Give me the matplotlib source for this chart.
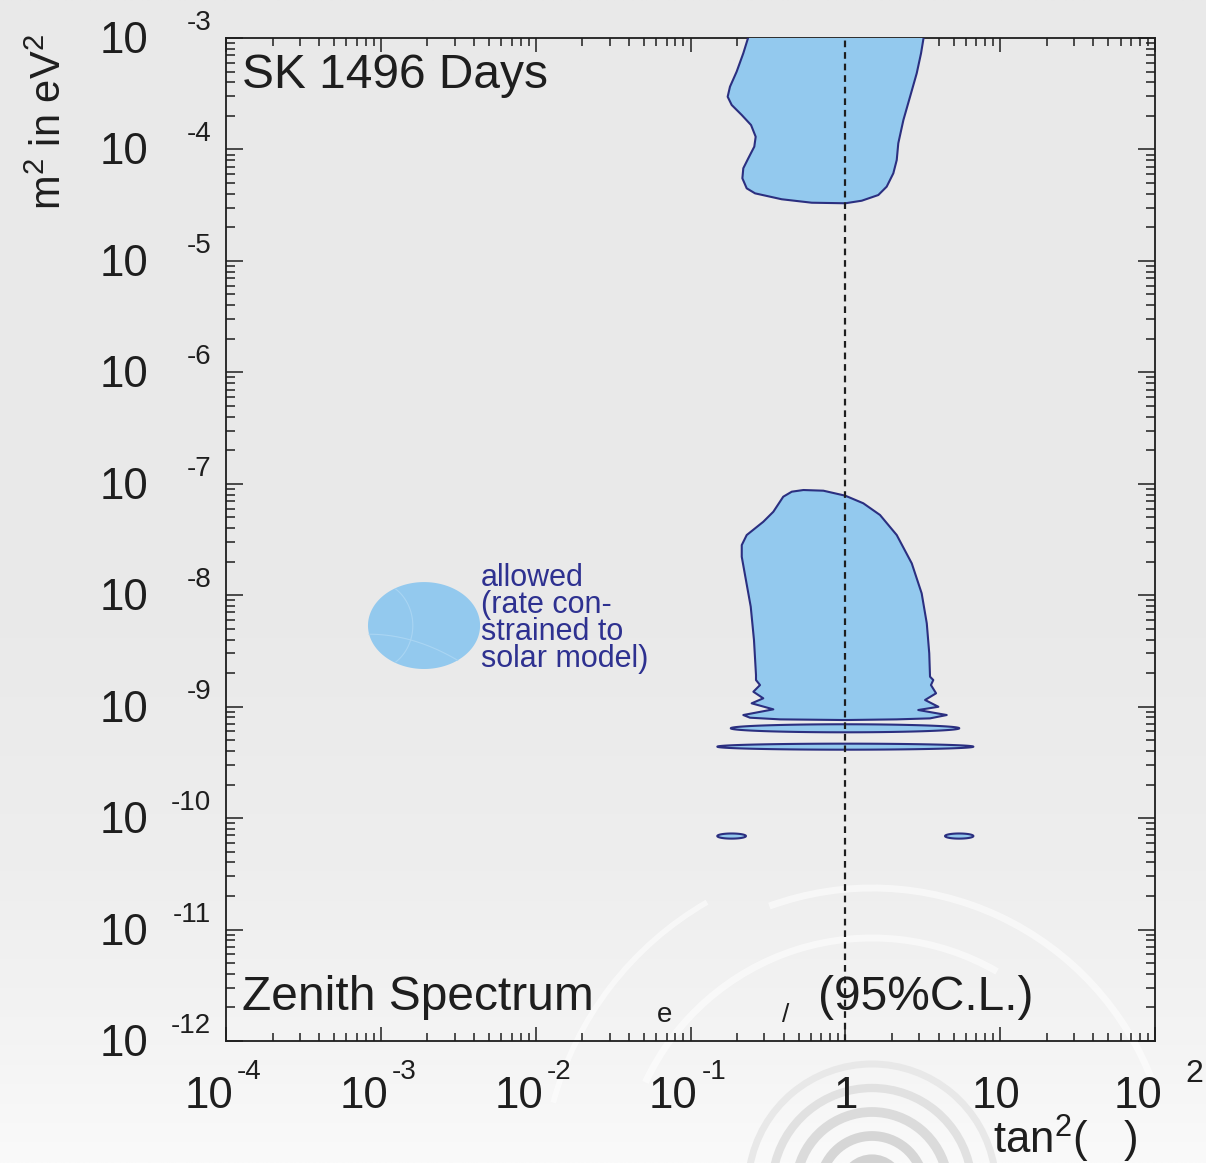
import numpy as np
import matplotlib
matplotlib.use("Agg")
import matplotlib.pyplot as plt
from matplotlib.patches import Polygon, Arc
from matplotlib.ticker import LogLocator, NullFormatter
import matplotlib.transforms as mtrans

plt.rcParams["font.family"] = ["Liberation Sans", "DejaVu Sans"]
plt.rcParams["mathtext.fontset"] = "custom"
plt.rcParams["mathtext.rm"] = "Liberation Sans"
plt.rcParams["mathtext.it"] = "Liberation Sans"

# ---- data: log10(tan^2 theta), log10(dm^2 / eV^2) ----
# upper excluded region (runs off the top of the plot)
upper_lx = [-0.620, -0.627, -0.659, -0.702, -0.745, -0.760, -0.734, -0.669,
            -0.609, -0.579, -0.588, -0.627, -0.659, -0.665, -0.637, -0.583,
            -0.411, -0.217, 0.000, 0.106, 0.213, 0.267, 0.310, 0.332, 0.342,
            0.375, 0.418, 0.461, 0.489, 0.506, 0.515]
upper_ly = [-2.90, -2.994, -3.137, -3.302, -3.437, -3.527, -3.601, -3.691,
            -3.781, -3.886, -3.975, -4.080, -4.169, -4.259, -4.349, -4.394,
            -4.447, -4.478, -4.483, -4.460, -4.409, -4.334, -4.214, -4.095,
            -3.945, -3.736, -3.527, -3.317, -3.137, -2.994, -2.90]

# main excluded region around 1e-8
main_lx = [-0.346, -0.271, -0.142, 0.000, 0.116, 0.224, 0.332, 0.429, 0.493,
           0.526, 0.542, 0.547, 0.568, 0.553, 0.586, 0.515, 0.601, 0.471,
           0.655, 0.547, 0.332, 0.000, -0.422, -0.616, -0.659, -0.465, -0.605,
           -0.530, -0.594, -0.551, -0.577, -0.577, -0.590, -0.611, -0.642,
           -0.669, -0.669, -0.637, -0.530, -0.465, -0.401]
main_ly = [-7.071, -7.056, -7.062, -7.107, -7.175, -7.280, -7.460, -7.714,
           -7.983, -8.252, -8.521, -8.731, -8.761, -8.806, -8.880, -8.940,
           -9.001, -9.030, -9.075, -9.105, -9.114, -9.120, -9.114, -9.099,
           -9.075, -9.024, -8.970, -8.925, -8.866, -8.806, -8.761, -8.716,
           -8.402, -8.103, -7.864, -7.655, -7.550, -7.460, -7.341, -7.251,
           -7.116]

# thin islands: left edge, right edge, centre, half height (all log10)
island_lx_left = [-0.740, -0.827, -0.827, 0.644]
island_lx_right = [0.736, 0.827, -0.642, 0.827]
island_ly_mid = [-9.194, -9.359, -10.161, -10.161]
island_ly_half = [0.036, 0.027, 0.023, 0.023]

# allowed (rate constrained) swatch: centre and half axes (log10)
allowed_lx, allowed_ly = -2.721, -8.272
allowed_hx, allowed_hy = 0.362, 0.390

# axis ticks and labels
x_ticks = [1e-4, 1e-3, 1e-2, 1e-1, 1, 10, 100]
x_tick_base = ["10", "10", "10", "10", "1", "10", "10"]
x_tick_exp = ["-4", "-3", "-2", "-1", "", "", "2"]
y_ticks = [1e-3, 1e-4, 1e-5, 1e-6, 1e-7, 1e-8, 1e-9, 1e-10, 1e-11, 1e-12]
y_tick_exp = ["-3", "-4", "-5", "-6", "-7", "-8", "-9", "-10", "-11", "-12"]

allowed_lines = ["allowed", "(rate con-", "strained to", "solar model)"]

FILL = "#93c9ee"
EDGE = "#2b2f80"
NAVY = "#2e3190"
INK = "#1e1e1e"

W, H = 1206, 1163
fig = plt.figure(figsize=(W / 100, H / 100), dpi=100)

# background: soft grey gradient with a faint swirl
bg = fig.add_axes([0, 0, 1, 1], zorder=-10)
stops_y = np.array([0.0, 0.55, 0.75, 0.9, 1.0])
stops_v = np.array([233, 234, 238, 244, 250]) / 255.0
yy = np.linspace(0, 1, 400)
grad = np.interp(yy, stops_y, stops_v)[:, None] * np.ones((1, 4))
bg.imshow(np.dstack([grad, grad, grad]), extent=[0, W, H, 0], aspect="auto",
          interpolation="bilinear")
cx, cy = 872, 1188
for r, lw, c in [(28, 8, "#d2d2d2"), (52, 7, "#d6d6d6"), (76, 7, "#dbdbdb"),
                 (100, 6, "#e1e1e1"), (124, 5, "#e8e8e8")]:
    bg.add_patch(Arc((cx, cy), 2 * r, 2 * r, theta1=190, theta2=350,
                     lw=lw, color=c))
for r, lw, t1, t2 in [(250, 5, 205, 300), (300, 5, 250, 340), (330, 4, 195, 240)]:
    bg.add_patch(Arc((cx, cy), 2 * r, 2 * r, theta1=t1, theta2=t2,
                     lw=lw, color="white", alpha=0.55))
bg.set_xlim(0, W)
bg.set_ylim(H, 0)
bg.axis("off")

# main axes
L, R, T, B = 226, 1155, 38, 1041
ax = fig.add_axes([L / W, 1 - B / H, (R - L) / W, (B - T) / H])
ax.set_facecolor("none")
ax.set_xscale("log")
ax.set_yscale("log")
ax.set_xlim(1e-4, 1e2)
ax.set_ylim(1e-12, 1e-3)


def add_region(lx, ly):
    pts = np.column_stack([10.0 ** np.asarray(lx), 10.0 ** np.asarray(ly)])
    ax.add_patch(Polygon(pts, closed=True, facecolor=FILL, edgecolor=EDGE,
                         lw=1.5, zorder=3, joinstyle="round"))


add_region(upper_lx, upper_ly)
add_region(main_lx, main_ly)

t = np.linspace(0, 2 * np.pi, 200)
for xl, xr, ym, yh in zip(island_lx_left, island_lx_right, island_ly_mid,
                          island_ly_half):
    xc, xh = 0.5 * (xl + xr), 0.5 * (xr - xl)
    add_region(xc + xh * np.cos(t), ym + yh * np.sin(t))

# allowed swatch (no outline) with faint internal seams
ax.add_patch(Polygon(np.column_stack([10 ** (allowed_lx + allowed_hx * np.cos(t)),
                                      10 ** (allowed_ly + allowed_hy * np.sin(t))]),
                     closed=True, facecolor=FILL, edgecolor="none", zorder=3))
s = np.linspace(-0.9, 0.9, 50)
ax.plot(10 ** (allowed_lx + allowed_hx * (-0.55 + 0.35 * np.cos(s * 1.6))),
        10 ** (allowed_ly + allowed_hy * np.sin(s * 1.2) * 0.95),
        color="#a9d5f3", lw=0.8, zorder=3.5)
ax.plot(10 ** (allowed_lx + allowed_hx * np.linspace(-0.98, 0.6, 50)),
        10 ** (allowed_ly + allowed_hy * (-0.2 - 0.6 * np.linspace(0, 1, 50) ** 2)),
        color="#a9d5f3", lw=0.8, zorder=3.5)

# vertical dashed line at maximal mixing
ax.axvline(1.0, color=INK, lw=1.6, ls=(0, (3, 2.2)), zorder=4)

# ticks
for a in (ax.xaxis, ax.yaxis):
    a.set_major_locator(LogLocator(base=10, numticks=20))
    a.set_minor_locator(LogLocator(base=10, subs=np.arange(2, 10), numticks=20))
    a.set_minor_formatter(NullFormatter())
ax.set_xticks(x_ticks)
ax.set_yticks(y_ticks)
ax.xaxis.set_major_formatter(NullFormatter())
ax.yaxis.set_major_formatter(NullFormatter())
ax.tick_params(axis="x", which="major", direction="in", top=True, bottom=True,
               length=10, width=1.1, color=INK)
ax.tick_params(axis="x", which="minor", direction="in", top=True, bottom=True,
               length=5.5, width=1.1, color=INK)
ax.tick_params(axis="y", which="major", direction="in", left=True, right=True,
               length=12.5, width=1.1, color=INK)
ax.tick_params(axis="y", which="minor", direction="in", left=True, right=True,
               length=6.5, width=1.1, color=INK)
for sp in ax.spines.values():
    sp.set_linewidth(1.3)
    sp.set_color(INK)


def off(dx_px, dy_px):
    return mtrans.ScaledTranslation(dx_px / 100, -dy_px / 100, fig.dpi_scale_trans)


BASE_FS, EXP_FS = 31.5, 20

# y tick labels
ytr = mtrans.blended_transform_factory(ax.transAxes, ax.transData)
for v, e in zip(y_ticks, y_tick_exp):
    ax.text(0, v, "10", transform=ytr + off(-78, 15), ha="right", va="baseline",
            fontsize=BASE_FS, color=INK, clip_on=False)
    ax.text(0, v, e, transform=ytr + off(-15, -8), ha="right", va="baseline",
            fontsize=EXP_FS, color=INK, clip_on=False)

# x tick labels
xtr = mtrans.blended_transform_factory(ax.transData, ax.transAxes)
for v, b, e in zip(x_ticks, x_tick_base, x_tick_exp):
    if b == "1":
        dx = 0
    elif e == "":
        dx = -4
    else:
        dx = -17
    ax.text(v, 0, b, transform=xtr + off(dx, 67), ha="center", va="baseline",
            fontsize=BASE_FS, color=INK, clip_on=False)
    if e:
        ex, ey = (30, 41) if e == "2" else (11, 38)
        ax.text(v, 0, e, transform=xtr + off(ex, ey), ha="left", va="baseline",
                fontsize=EXP_FS + (3 if e == "2" else 0), color=INK, clip_on=False)

# axis titles
fig.text(70 / W, 1 - 122 / H, r"m$^2$ in eV$^2$", rotation=90, ha="right",
         va="center", fontsize=30, color=INK)
bg.text(993, 1154, r"tan$^2$(   )", ha="left", va="baseline", fontsize=BASE_FS,
        color=INK)

# annotations
bg.text(242, 88, "SK 1496 Days", ha="left", va="baseline", fontsize=34.5, color=INK)
bg.text(242, 1010, "Zenith Spectrum", ha="left", va="baseline", fontsize=34.5,
        color=INK)
bg.text(657, 1022, "e", ha="left", va="baseline", fontsize=20, color=INK)
bg.text(782, 1022, "/", ha="left", va="baseline", fontsize=19, color=INK)
bg.text(818, 1010, "(95%C.L.)", ha="left", va="baseline", fontsize=34.5, color=INK)

# legend note for the allowed swatch, one block of four lines
bg.text(481, 667, "\n".join(allowed_lines), ha="left", va="baseline",
        fontsize=22, color=NAVY, linespacing=0.87, multialignment="left")

fig.savefig("out.png", dpi=100)
